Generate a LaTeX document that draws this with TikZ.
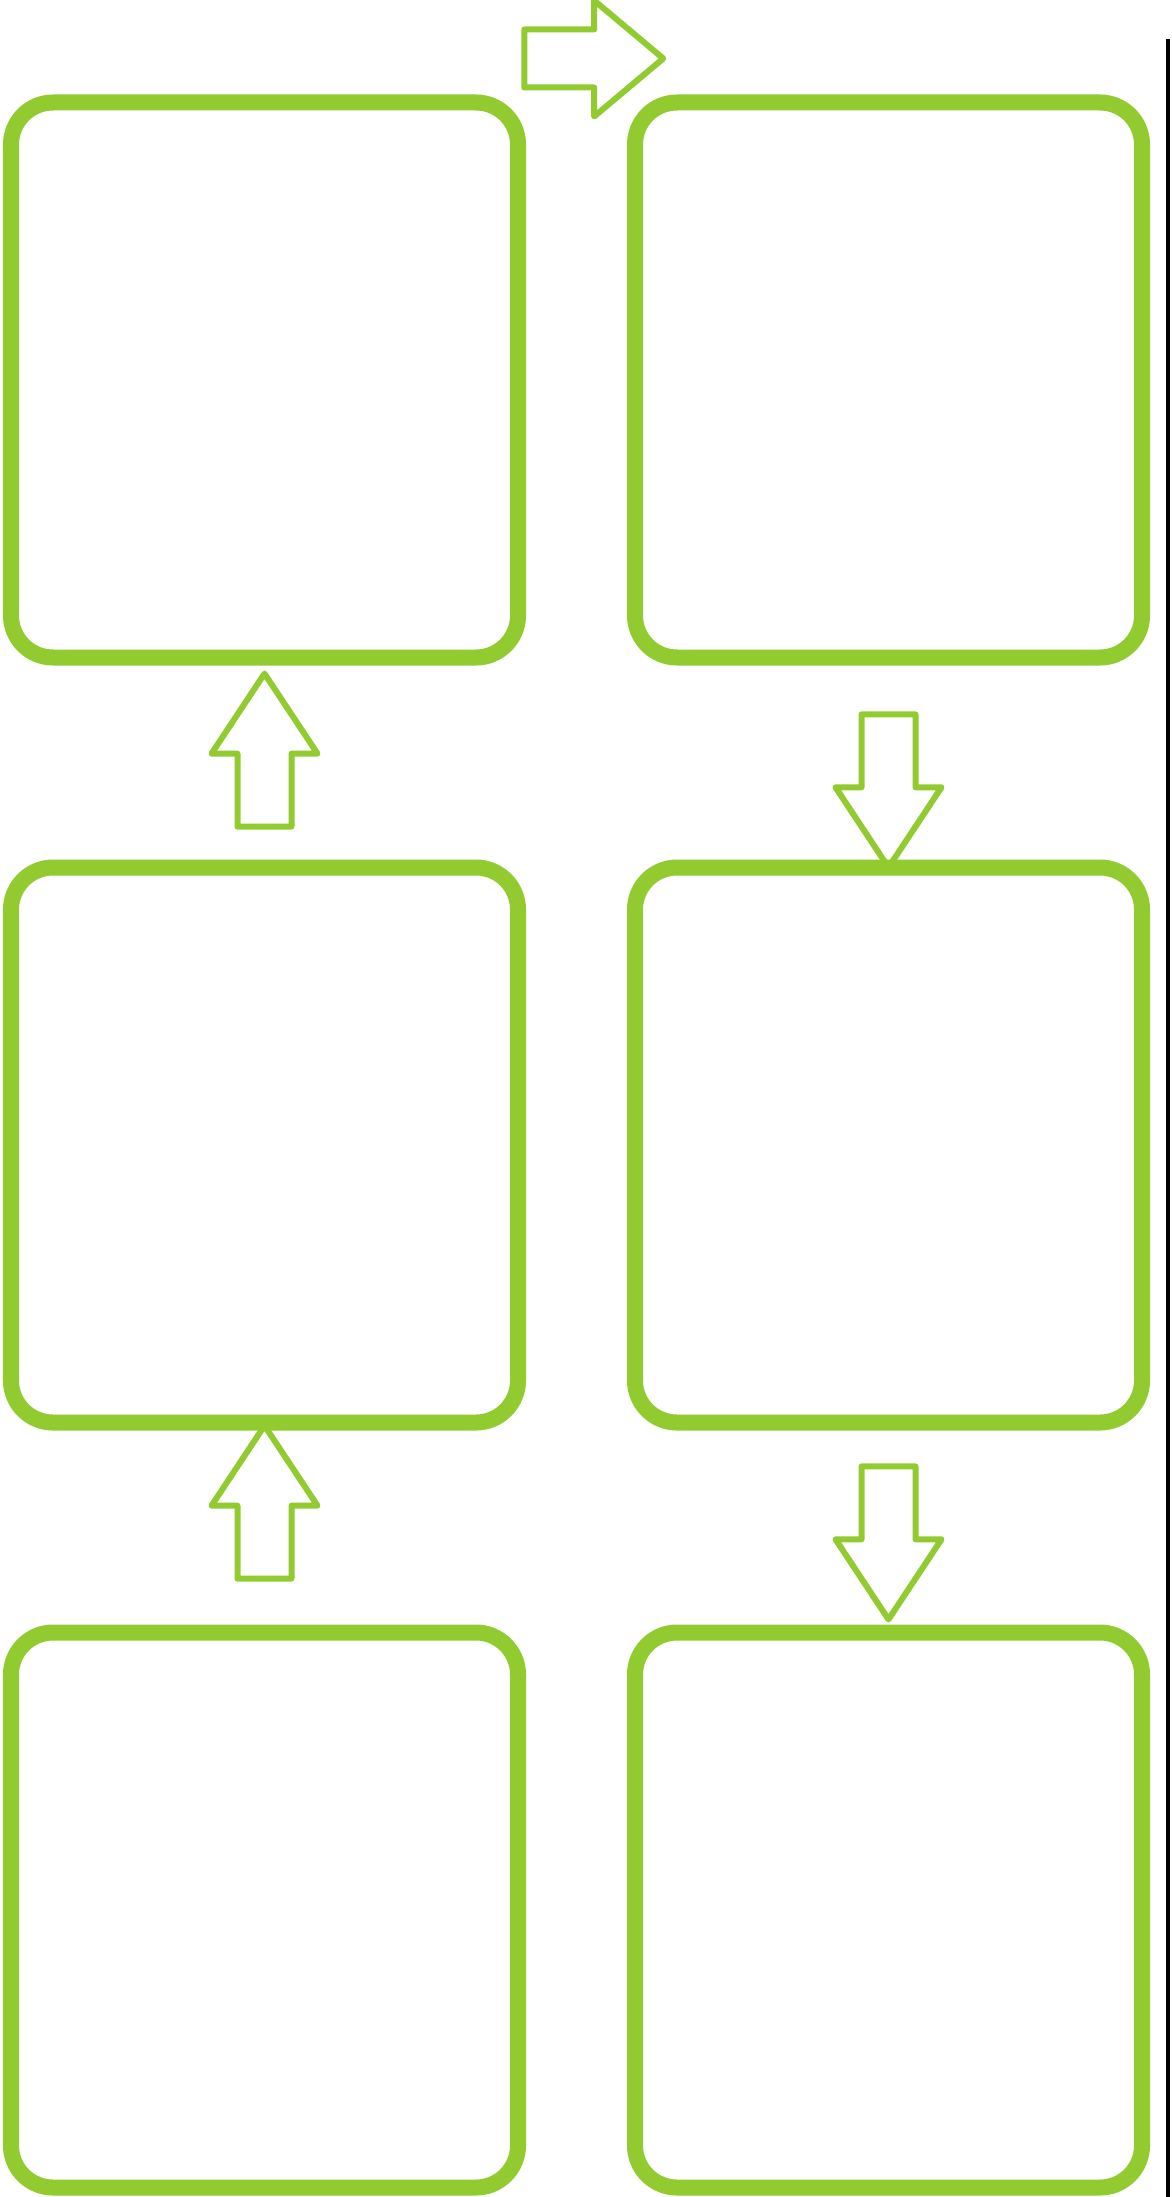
\documentclass[tikz,border=0pt]{standalone}
\usetikzlibrary{shapes.arrows,positioning,calc}
\definecolor{leafgreen}{RGB}{145,203,48}

\begin{document}
\begin{tikzpicture}[
    box/.style={rectangle, draw=leafgreen, line width=0.16cm, rounded corners=0.42cm, minimum width=5.07cm, minimum height=5.55cm, inner sep=0pt, outer sep=0pt},
    flow/.style={single arrow, draw=leafgreen, line width=0.06cm, line join=round, inner xsep=0pt, inner ysep=0.24cm, outer sep=0pt, single arrow head extend=0.26cm, single arrow tip angle=67, minimum height=1.53cm},
    across/.style={flow, inner ysep=0.26cm, single arrow head extend=0.29cm, single arrow tip angle=80, minimum height=1.39cm}
]
    % Frame
    \useasboundingbox (0,0) rectangle (11.71,-21.97);

    % Left column
    \node[box] (box3) at (2.645,-3.80) {};
    \node[box, below=2.10cm of box3] (box2) {};
    \node[box, below=2.10cm of box2] (box1) {};

    % Right column
    \node[box, right=1.17cm of box3] (box4) {};
    \node[box, below=2.10cm of box4] (box5) {};
    \node[box, below=2.10cm of box5] (box6) {};

    % Arrows up the left side
    \node[flow, rotate=90] (up1) at ($(box1.north)!0.5!(box2.south)+(0,0.05)$) {};
    \node[flow, rotate=90] (up2) at ($(box2.north)!0.5!(box3.south)+(0,-0.08)$) {};

    % Arrow across the top
    \node[across] (over) at ($(box3.north east)!0.5!(box4.north west)+(0,0.44)$) {};

    % Arrows down the right side
    \node[flow, rotate=-90] (down1) at ($(box4.south)!0.5!(box5.north)+(0,-0.08)$) {};
    \node[flow, rotate=-90] (down2) at ($(box5.south)!0.5!(box6.north)+(0,0.05)$) {};

    % Edge line
    \draw[line width=0.035cm] (11.68,-0.39) -- (11.68,-21.97);
\end{tikzpicture}
\end{document}
